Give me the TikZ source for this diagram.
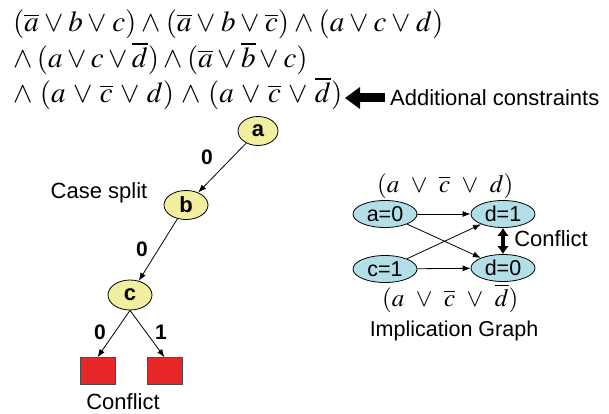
\documentclass[tikz,border=0pt]{standalone}
\usepackage{mathptmx}
\usepackage[no-math]{fontspec}
\setmainfont{Liberation Sans}
\usetikzlibrary{shapes.geometric,arrows.meta}
\definecolor{treeyellow}{RGB}{242,240,160}
\definecolor{graphblue}{RGB}{178,222,232}
\definecolor{boxred}{RGB}{232,40,40}
% logical connectives with an explicit gap on both sides
\newlength\opgap
\newcommand\vop{\mathord{\hspace{\opgap}\vee\hspace{\opgap}}}
\newcommand\wop{\mathord{\hspace{\opgap}\wedge\hspace{\opgap}}}
\newcommand\lwop{\mathord{\wedge\hspace{\opgap}}}
\tikzset{
  lbl/.style={inner sep=0pt, font=\fontsize{21}{21}\selectfont\bfseries},
  txt/.style={inner sep=0pt, font=\fontsize{22}{22}\selectfont},
  tnode/.style={ellipse, draw=black, line width=0.8pt, fill=treeyellow, inner sep=0pt,
    font=\fontsize{22}{22}\selectfont\bfseries},
  gnode/.style={ellipse, draw=black, line width=0.8pt, fill=graphblue, inner sep=0pt,
    minimum width=64pt, minimum height=27pt, font=\fontsize{21.5}{21.5}\selectfont},
  edge/.style={-{Latex[length=8pt,width=6pt]}, line width=0.8pt},
  conflictbox/.style={rectangle, fill=boxred, draw=black!70, line width=0.5pt,
    minimum width=35pt, minimum height=27pt, inner sep=0pt},
  formula/.style={inner sep=0pt, font=\fontsize{29}{29}\selectfont},
  smallformula/.style={inner sep=0pt, font=\fontsize{25}{25}\selectfont},
  bigarrow/.style={-{Triangle[length=15pt,width=21pt]}, line width=9pt}
}
\begin{document}
\begin{tikzpicture}[x=1pt,y=-1pt]
\useasboundingbox (0,0) rectangle (609,414);

% CNF formula with the added clauses
\node[formula, anchor=base west] (f1) at (13,32)
  {$\setlength\opgap{5.06pt}(\overline{a}\vop b\vop c)\wop(\overline{a}\vop b\vop \overline{c})\wop(a\vop c\vop d)$};
\node[formula, anchor=base west] (f2) at (13,68)
  {$\setlength\opgap{4.4pt}\lwop(a\vop c\vop \overline{d})\wop(\overline{a}\vop \overline{b}\vop c)$};
\node[formula, anchor=base west] (f3) at (13,103)
  {$\setlength\opgap{7.4pt}\lwop(a\vop \overline{c}\vop d)\wop(a\vop \overline{c}\vop \overline{d})$};
\node[txt, anchor=west] (addl) at (390,98) {Additional constraints};
\draw[bigarrow] (addl.west) ++(-5,0) coordinate (arrS) -- ++(-40,0) coordinate (arrE);

% decision tree
\node[tnode, minimum width=40pt, minimum height=29pt] (a) at (258,131) {a};
\node[tnode, minimum width=44pt, minimum height=29pt] (b) at (186,205) {b};
\node[tnode, minimum width=44pt, minimum height=30pt] (c) at (130,295) {c};
\node[conflictbox] (l) at (97.5,371) {};
\node[conflictbox] (r) at (164.5,371) {};

\draw[edge] (a) -- (b);
\draw[edge] (b) -- (c);
\draw[edge] (c.south) -- (l.north);
\draw[edge] (c.south) -- (r.north);

\node[lbl] (e1) at (207,157) {0};
\node[lbl] (e2) at (142,249) {0};
\node[lbl] (e3) at (100,332) {0};
\node[lbl] (e4) at (161,332) {1};

\node[txt] (cs) at (99,193) {Case split};
\node[txt] (cf) at (123,402) {Conflict};

% implication graph
\node[gnode] (a0) at (385,214) {a=0};
\node[gnode] (c1) at (385,269) {c=1};
\node[gnode] (d1) at (503,214) {d=1};
\node[gnode] (d0) at (503,268) {d=0};

\draw[edge] (a0) -- (d1);
\draw[edge] (a0) -- (d0);
\draw[edge] (c1) -- (d1);
\draw[edge] (c1) -- (d0);
\draw[{Latex[length=8pt,width=12pt]}-{Latex[length=8pt,width=12pt]}, line width=4pt]
  (d1) -- (d0);

\node[smallformula, anchor=base west] (g1) at (377,192)
  {$\setlength\opgap{11.5pt}(a\vop \overline{c}\vop d)$};
\node[smallformula, anchor=base west] (g2) at (382,306)
  {$\setlength\opgap{11.5pt}(a\vop \overline{c}\vop \overline{d})$};
\node[txt] (gc) at (551,239) {Conflict};
\node[txt, font=\fontsize{21.5}{21.5}\selectfont] (ig) at (454,331) {Implication Graph};
\end{tikzpicture}
\end{document}
